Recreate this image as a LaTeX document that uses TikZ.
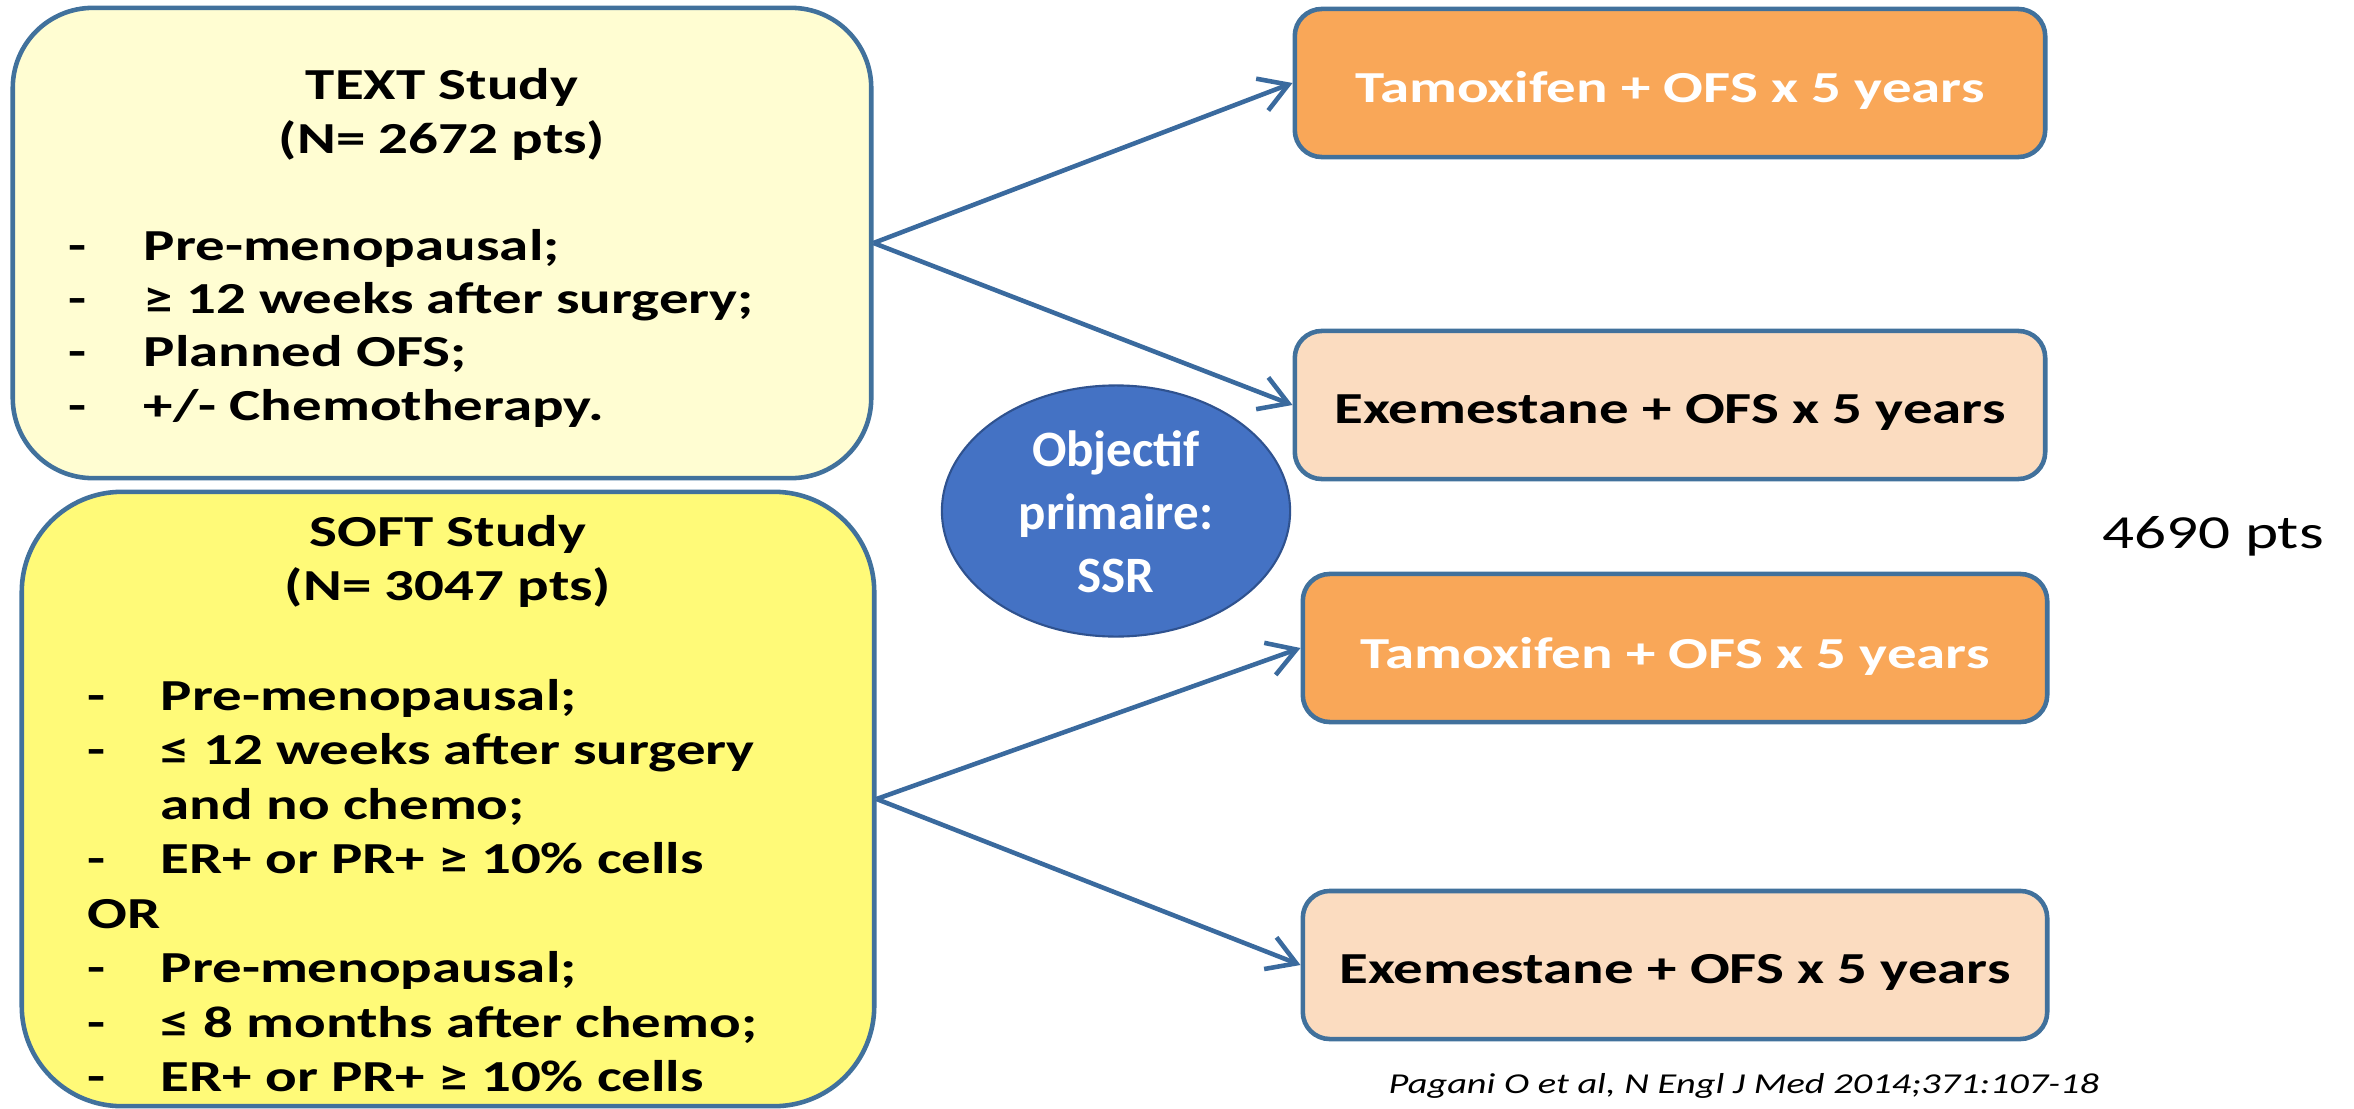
\documentclass[tikz,border=0pt]{standalone}
\usepackage{fontspec}
\setmainfont{Carlito}
\newfontfamily\widefont[FakeStretch=1.33]{Carlito}
\usetikzlibrary{arrows.meta,shapes.geometric}
\definecolor{edgeblue}{HTML}{41719C}
\definecolor{arrowblue}{HTML}{3A6A9E}
\definecolor{textfill}{HTML}{FFFDD2}
\definecolor{softfill}{HTML}{FFFA78}
\definecolor{tamfill}{HTML}{F9A758}
\definecolor{exefill}{HTML}{FBDCC0}
\definecolor{ovalfill}{HTML}{4472C4}
\definecolor{ovaledge}{HTML}{2F528F}
\begin{document}
\begin{tikzpicture}[x=0.01cm,y=-0.01cm,
  studybox/.style={draw=edgeblue,line width=1.3pt,inner sep=0pt},
  armbox/.style={draw=edgeblue,line width=1.3pt,rounded corners=0.27cm,
    minimum height=1.48cm,inner sep=0pt},
  tambox/.style={armbox,fill=tamfill},
  exebox/.style={armbox,fill=exefill},
  bodytext/.style={inner sep=0pt,anchor=base west,
    font=\widefont\bfseries\fontsize{12.6}{15.2}\selectfont},
  titletext/.style={inner sep=0pt,anchor=base,
    font=\widefont\bfseries\fontsize{12.6}{15.2}\selectfont},
  armtext/.style={inner sep=0pt,anchor=base,
    font=\widefont\bfseries\fontsize{12.6}{15.2}\selectfont},
  link/.style={draw=arrowblue,line width=1.3pt,
    -{Straight Barb[length=2.8mm,width=3.4mm,line width=1.3pt]}}
]
\useasboundingbox (0,0) rectangle (2354,1109);

% study boxes
\node[studybox,fill=textfill,rounded corners=0.8cm,minimum width=8.58cm,minimum height=4.70cm]
  (textbox) at (442,243) {};
\node[studybox,fill=softfill,rounded corners=1.0cm,minimum width=8.52cm,minimum height=6.14cm]
  (softbox) at (448,799) {};

\node[titletext] (texttitle) at (442,100)
  {\begin{tabular}[t]{@{}c@{}}TEXT Study\\(N= 2672 pts)\end{tabular}};
\node[bodytext] (textlist) at (68,260)
  {\begin{tabular}[t]{@{}p{0.75cm}@{}l@{}}
   -&Pre-menopausal;\\
   -&≥ 12 weeks after surgery;\\
   -&Planned OFS;\\
   -&+/- Chemotherapy.
   \end{tabular}};

\node[titletext,font=\widefont\bfseries\fontsize{12.6}{15.5}\selectfont] (softtitle) at (448,546)
  {\begin{tabular}[t]{@{}c@{}}SOFT Study\\(N= 3047 pts)\end{tabular}};
\node[bodytext,font=\widefont\bfseries\fontsize{12.6}{15.5}\selectfont] (softlist) at (87,710)
  {\begin{tabular}[t]{@{}p{0.73cm}@{}l@{}}
   -&Pre-menopausal;\\
   -&≤ 12 weeks after surgery\\
    &and no chemo;\\
   -&ER+ or PR+ ≥ 10\% cells\\
   \multicolumn{2}{@{}l@{}}{OR}\\
   -&Pre-menopausal;\\
   -&≤ 8 months after chemo;\\
   -&ER+ or PR+ ≥ 10\% cells
   \end{tabular}};

% arm boxes
\node[tambox,minimum width=7.50cm] (tam1) at (1670,83) {};
\node[exebox,minimum width=7.50cm] (exe1) at (1670,405) {};
\node[tambox,minimum width=7.44cm] (tam2) at (1675,648) {};
\node[exebox,minimum width=7.44cm] (exe2) at (1675,965) {};

\node[armtext,text=white] (tam1t) at (1670,102) {Tamoxifen + OFS x 5 years};
\node[armtext] (exe1t) at (1670,423) {Exemestane + OFS x 5 years};
\node[armtext,text=white] (tam2t) at (1675,668) {Tamoxifen + OFS x 5 years};
\node[armtext] (exe2t) at (1675,983) {Exemestane + OFS x 5 years};

% objective ellipse
\node[ellipse,draw=ovaledge,line width=0.6pt,fill=ovalfill,minimum width=3.48cm,minimum height=2.51cm,inner sep=0pt]
  (goal) at (1116,511) {};
\node[inner sep=0pt,anchor=base,text=white,font=\bfseries\fontsize{14.5}{18}\selectfont] (goalt) at (1116,466)
  {\begin{tabular}[t]{@{}c@{}}Objectif\\primaire:\\SSR\end{tabular}};

% connectors
\draw[link] (textbox.east) -- (tam1.west);
\draw[link] (textbox.east) -- (exe1.west);
\draw[link] (softbox.east) -- (tam2.west);
\draw[link] (softbox.east) -- (exe2.west);

% side texts
\node[inner sep=0pt,anchor=base west,font=\widefont\fontsize{13.5}{16}\selectfont] (total) at (2102,548) {4690 pts};
\node[inner sep=0pt,anchor=base west,font=\widefont\itshape\fontsize{8.2}{10}\selectfont] (cite) at (1388,1093)
  {Pagani O et al, N Engl J Med 2014;371:107-18};
\end{tikzpicture}
\end{document}
